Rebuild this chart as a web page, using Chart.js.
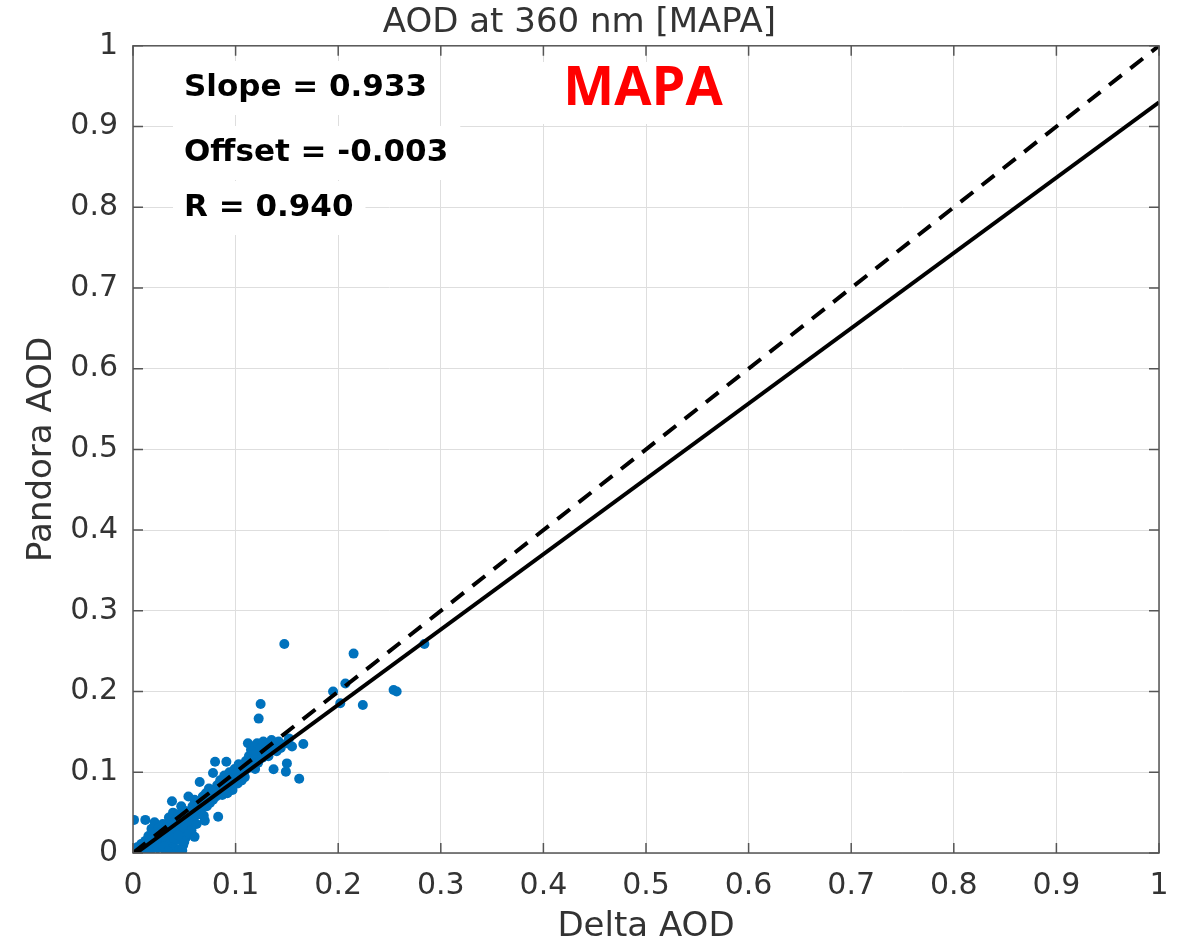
<!DOCTYPE html>
<html>
<head>
<meta charset="utf-8">
<script src="https://cdn.jsdelivr.net/npm/chart.js@4/dist/chart.umd.min.js"></script>
<style>
  html, body { margin: 0; padding: 0; background: #fff; }
  #wrap { width: 1189px; height: 948px; position: relative; }
</style>
</head>
<body>
<div id="wrap"><canvas id="chart"></canvas></div>
<script>
// scatter points (Delta AOD, Pandora AOD)
const pointX = [
  0.002, 0.004, 0.006, 0.008, 0.001, 0.012, 0.010, 0.012, 0.014, 0.015,
  0.017, 0.018, 0.020, 0.021, 0.022, 0.024, 0.025, 0.026, 0.028, 0.029,
  0.030, 0.031, 0.032, 0.034, 0.035, 0.036, 0.037, 0.038, 0.038, 0.039,
  0.040, 0.041, 0.042, 0.043, 0.044, 0.045, 0.046, 0.047, 0.048, 0.049,
  0.050, 0.051, 0.052, 0.053, 0.054, 0.055, 0.056, 0.057, 0.058, 0.059,
  0.060, 0.061, 0.062, 0.063, 0.064, 0.065, 0.066, 0.067, 0.068, 0.069,
  0.070, 0.071, 0.072, 0.073, 0.074, 0.075, 0.076, 0.078, 0.078, 0.079,
  0.080, 0.081, 0.082, 0.083, 0.084, 0.085, 0.086, 0.087, 0.088, 0.089,
  0.091, 0.091, 0.092, 0.093, 0.094, 0.095, 0.096, 0.097, 0.098, 0.099,
  0.100, 0.101, 0.102, 0.103, 0.104, 0.105, 0.106, 0.107, 0.108, 0.109,
  0.110, 0.111, 0.112, 0.113, 0.114, 0.115, 0.116, 0.117, 0.118, 0.119,
  0.120, 0.121, 0.122, 0.1225, 0.1244, 0.124, 0.126, 0.127, 0.128, 0.130,
  0.132, 0.133, 0.135, 0.137, 0.138, 0.140, 0.142, 0.144, 0.1475, 0.149,
  0.150, 0.150, 0.152, 0.155, 0.162, 0.166, 0.195, 0.202, 0.207, 0.215,
  0.224, 0.254, 0.257, 0.284, 0.030, 0.040, 0.045, 0.050, 0.055, 0.060,
  0.070, 0.034, 0.048, 0.016, 0.023, 0.027, 0.033, 0.044
];
const pointY = [
  0.003, 0.007, 0.002, 0.011, 0.041, 0.041, 0.005, 0.015, 0.008, 0.021,
  0.003, 0.030, 0.012, 0.038, 0.022, 0.006, 0.031, 0.016, 0.010, 0.036,
  0.025, 0.004, 0.018, 0.028, 0.044, 0.012, 0.034, 0.064, 0.022, 0.050,
  0.006, 0.040, 0.030, 0.016, 0.048, 0.036, 0.026, 0.058, 0.042, 0.010,
  0.032, 0.052, 0.020, 0.045, 0.070, 0.038, 0.050, 0.028, 0.058, 0.044,
  0.066, 0.054, 0.036, 0.060, 0.048, 0.088, 0.062, 0.056, 0.070, 0.046,
  0.064, 0.074, 0.058, 0.068, 0.080, 0.062, 0.072, 0.099, 0.066, 0.078,
  0.113, 0.070, 0.084, 0.045, 0.076, 0.090, 0.080, 0.072, 0.086, 0.096,
  0.113, 0.082, 0.074, 0.090, 0.100, 0.084, 0.094, 0.078, 0.088, 0.104,
  0.092, 0.098, 0.086, 0.110, 0.096, 0.102, 0.090, 0.108, 0.100, 0.094,
  0.114, 0.104, 0.136, 0.120, 0.110, 0.128, 0.108, 0.132, 0.116, 0.104,
  0.124, 0.136, 0.112, 0.1665, 0.1846, 0.130, 0.118, 0.138, 0.124, 0.134,
  0.120, 0.128, 0.140, 0.1037, 0.132, 0.126, 0.138, 0.130, 0.259, 0.1008,
  0.111, 0.136, 0.142, 0.132, 0.092, 0.135, 0.200, 0.1855, 0.210, 0.247,
  0.1834, 0.202, 0.200, 0.259, 0.008, 0.018, 0.004, 0.014, 0.024, 0.020,
  0.040, 0.002, 0.003, 0.012, 0.017, 0.024, 0.035, 0.022
];

// 1:1 reference line and regression line end points
const oneToOneX = [0, 1];
const oneToOneY = [0, 1];
const fitX = [0, 1];
const fitY = [-0.003, 0.930];

const xTickLabels = ['0', '0.1', '0.2', '0.3', '0.4', '0.5', '0.6', '0.7', '0.8', '0.9', '1'];
const yTickLabels = ['0', '0.1', '0.2', '0.3', '0.4', '0.5', '0.6', '0.7', '0.8', '0.9', '1'];

const statLines = ['Slope = 0.933', 'Offset = -0.003', 'R = 0.940'];
const siteLabel = 'MAPA';

const toXY = (xs, ys) => xs.map((x, i) => ({ x: x, y: ys[i] }));

Chart.defaults.font.family = "'DejaVu Sans', Verdana, sans-serif";
Chart.defaults.color = '#333';

// box round the axes, with ticks pointing inward on all four sides
const axesBox = {
  id: 'axesBox',
  afterDraw(chart) {
    const { ctx, chartArea: a, scales } = chart;
    ctx.save();
    ctx.strokeStyle = '#555';
    ctx.lineWidth = 1.5;
    ctx.strokeRect(a.left, a.top, a.right - a.left, a.bottom - a.top);
    ctx.beginPath();
    scales.x.ticks.forEach(t => {
      const px = scales.x.getPixelForValue(t.value);
      ctx.moveTo(px, a.bottom); ctx.lineTo(px, a.bottom - 10);
      ctx.moveTo(px, a.top); ctx.lineTo(px, a.top + 10);
    });
    scales.y.ticks.forEach(t => {
      const py = scales.y.getPixelForValue(t.value);
      ctx.moveTo(a.left, py); ctx.lineTo(a.left + 10, py);
      ctx.moveTo(a.right, py); ctx.lineTo(a.right - 10, py);
    });
    ctx.stroke();
    ctx.restore();
  }
};

// statistics text with white backgrounds and the red site label
const annotations = {
  id: 'annotations',
  beforeDatasetsDraw(chart) {
    const { ctx } = chart;
    ctx.save();
    ctx.font = "bold 31px 'DejaVu Sans'";
    ctx.textBaseline = 'middle';
    const rows = [88, 153, 208];
    statLines.forEach((s, i) => {
      const w = ctx.measureText(s).width;
      ctx.fillStyle = '#fff';
      ctx.fillRect(173, rows[i] - 27, w + 23, 54);
      ctx.fillStyle = '#000';
      ctx.fillText(s, 184, rows[i]);
    });
    ctx.fillStyle = '#fff';
    ctx.fillRect(540, 62, 205, 62);
    ctx.font = "bold 54px 'Open Sans'";
    ctx.textAlign = 'center';
    ctx.fillStyle = '#ff0000';
    ctx.fillText(siteLabel, 643, 90);
    ctx.restore();
  }
};

new Chart(document.getElementById('chart'), {
  type: 'scatter',
  data: {
    datasets: [
      {
        type: 'line',
        data: toXY(fitX, fitY),
        borderColor: '#000',
        borderWidth: 4,
        pointRadius: 0,
        fill: false
      },
      {
        type: 'line',
        data: toXY(oneToOneX, oneToOneY),
        borderColor: '#000',
        borderWidth: 4,
        borderDash: [16, 11],
        pointRadius: 0,
        fill: false
      },
      {
        data: toXY(pointX, pointY),
        backgroundColor: '#0072BD',
        borderWidth: 0,
        pointRadius: 5
      }
    ]
  },
  options: {
    responsive: true,
    maintainAspectRatio: false,
    animation: false,
    layout: { padding: { top: 3, right: 30, bottom: 0, left: 0 } },
    plugins: {
      legend: { display: false },
      tooltip: { enabled: false },
      title: {
        display: true,
        text: 'AOD at 360 nm [MAPA]',
        color: '#333',
        font: { size: 34, weight: 'normal', lineHeight: 1.2 },
        padding: { top: 0, bottom: 2 }
      }
    },
    scales: {
      x: {
        type: 'linear',
        min: 0,
        max: 1,
        afterFit: s => { s.height = 95; },
        ticks: {
          stepSize: 0.1,
          padding: 15,
          font: { size: 30 },
          color: '#333',
          maxRotation: 0,
          callback: (v, i) => xTickLabels[i]
        },
        grid: { color: '#dedede', lineWidth: 1, drawTicks: false },
        border: { display: false },
        title: {
          display: true,
          text: 'Delta AOD',
          color: '#333',
          font: { size: 34 },
          padding: { top: 0, bottom: 0 }
        }
      },
      y: {
        type: 'linear',
        min: 0,
        max: 1,
        afterFit: s => { s.width = 133; },
        ticks: {
          stepSize: 0.1,
          padding: 15,
          font: { size: 30 },
          color: '#333',
          callback: (v, i) => yTickLabels[i]
        },
        grid: { color: '#dedede', lineWidth: 1, drawTicks: false },
        border: { display: false },
        title: {
          display: true,
          text: 'Pandora AOD',
          color: '#333',
          font: { size: 34 },
          padding: { top: 22, bottom: 0 }
        }
      }
    }
  },
  plugins: [annotations, axesBox]
});
</script>
</body>
</html>
